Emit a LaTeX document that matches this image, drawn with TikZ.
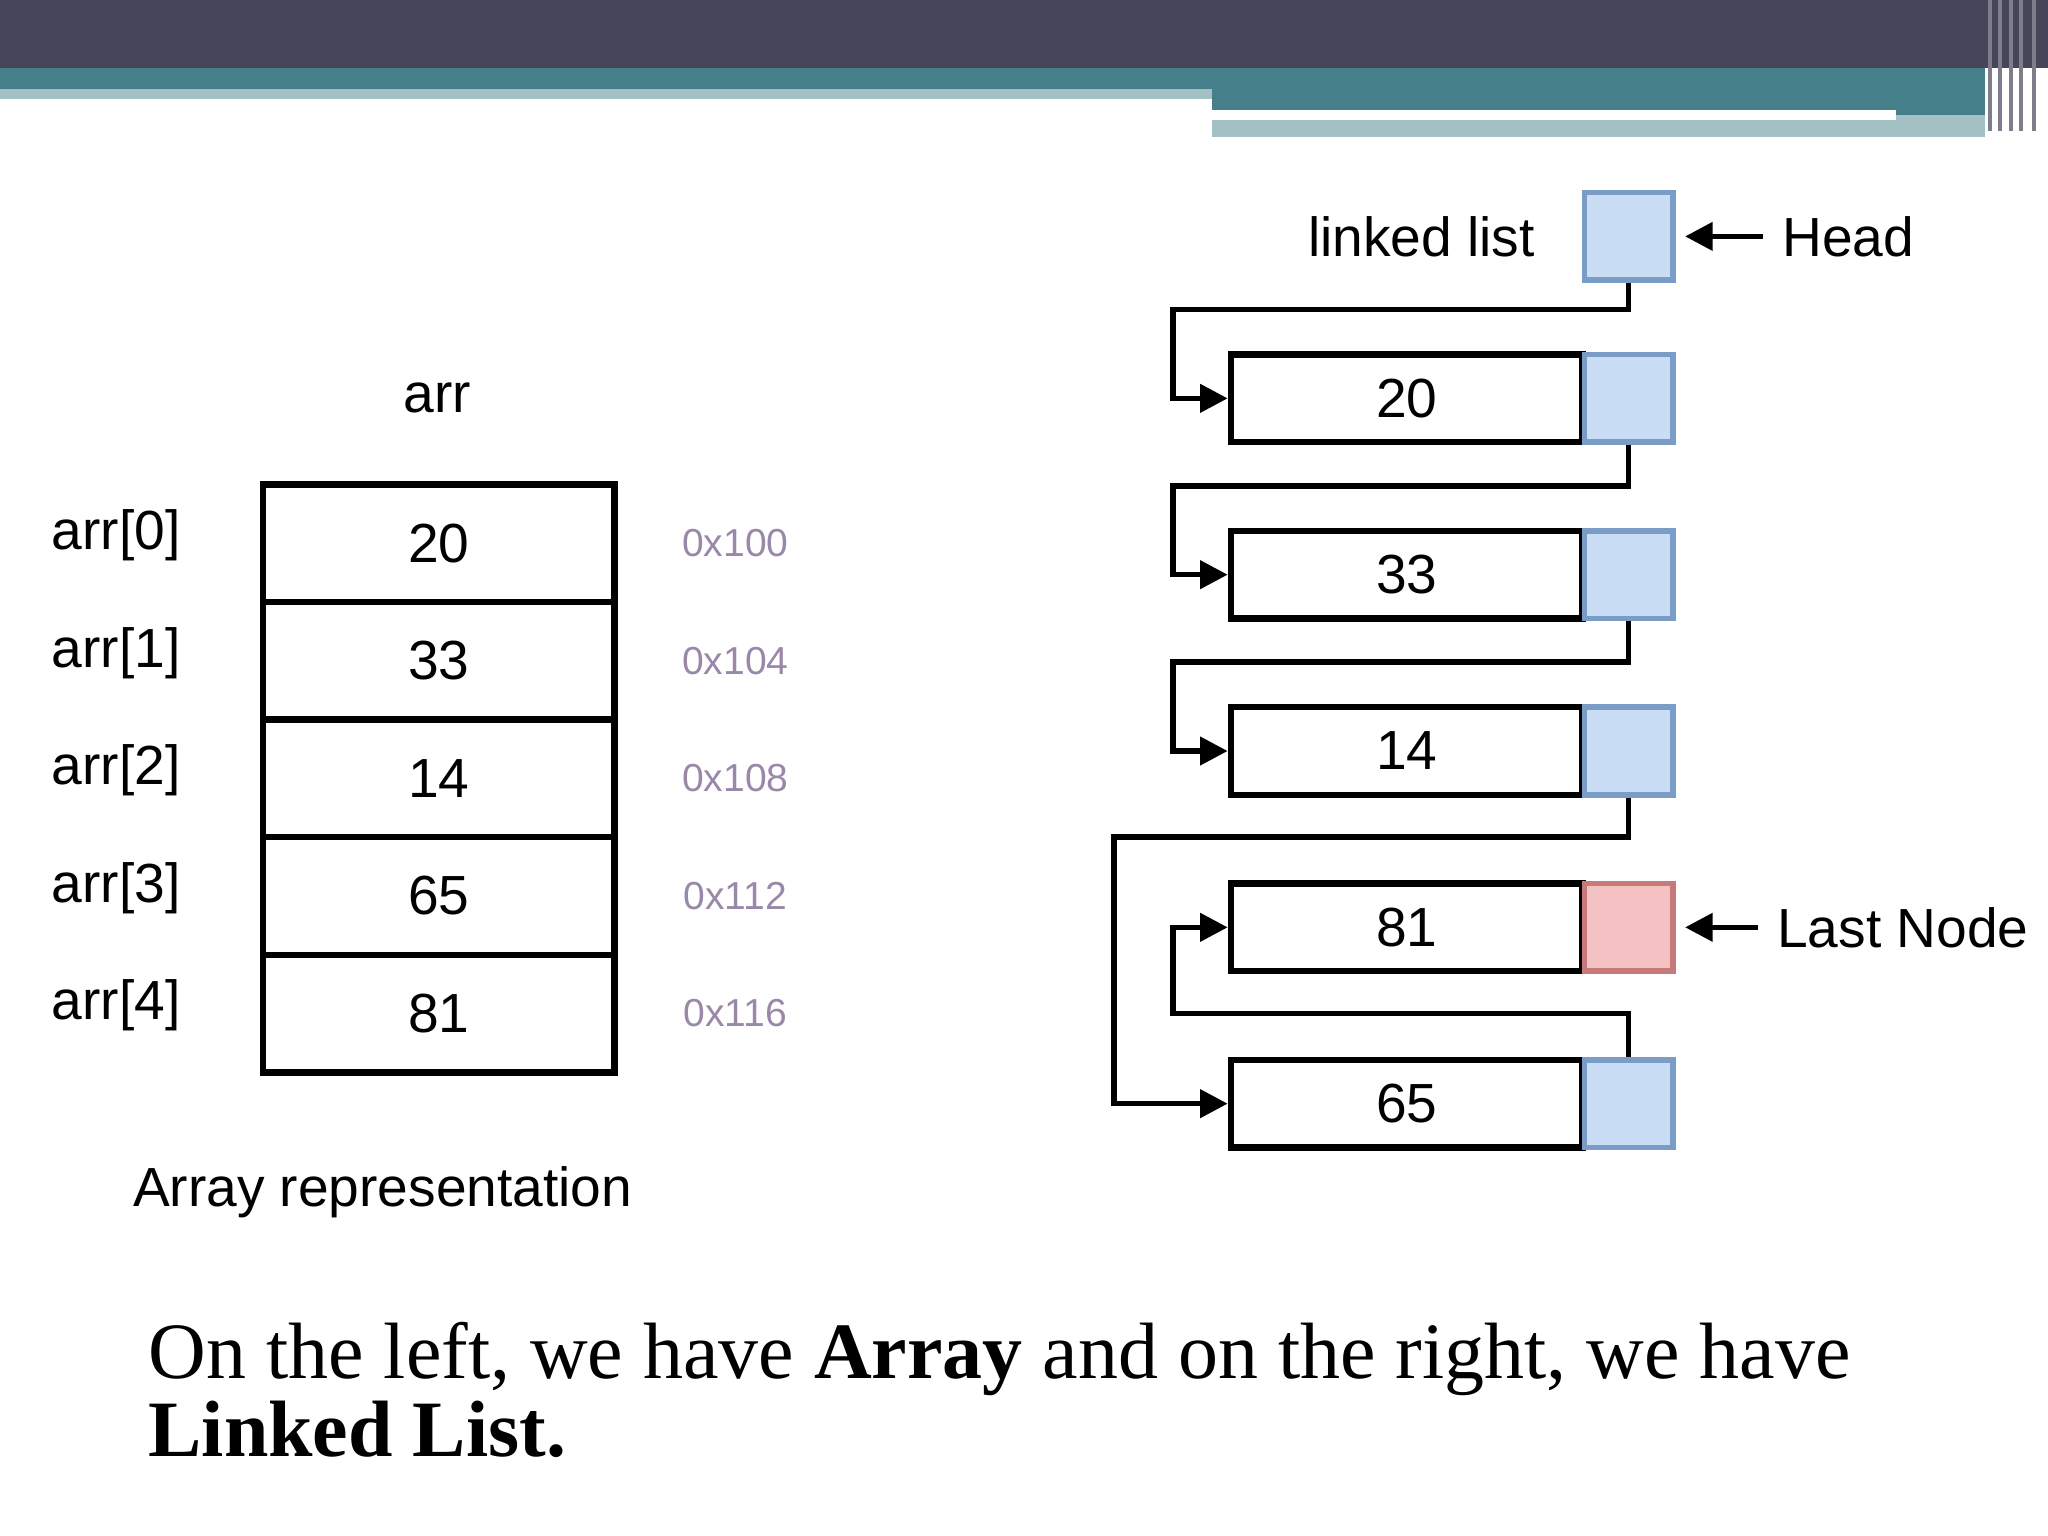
\documentclass[tikz,border=0pt]{standalone}
\usepackage{fontspec}
\setmainfont{Liberation Serif}
\newfontfamily\figfont{Liberation Sans}
\usepackage{xcolor}
\usetikzlibrary{calc,positioning,arrows.meta}
\definecolor{barDark}{HTML}{474559}
\definecolor{barTeal}{HTML}{45808A}
\definecolor{barLight}{HTML}{A3C0C4}
\definecolor{addrCol}{HTML}{9A88A8}
\definecolor{ptrBlue}{HTML}{C9DDF5}
\definecolor{ptrEdge}{HTML}{7A9CC6}
\definecolor{lastRed}{HTML}{F4C2C2}
\definecolor{lastEdge}{HTML}{C87A7A}
\tikzset{
  cell/.style={draw, line width=1.4pt, minimum width=2.69cm, minimum height=0.9cm, font=\figfont\fontsize{12}{14}\selectfont},
  dat/.style={draw, line width=1.4pt, minimum width=2.69cm, minimum height=0.67cm, font=\figfont\fontsize{12}{14}\selectfont},
  ptr/.style={draw=ptrEdge, fill=ptrBlue, line width=1.2pt, minimum width=0.68cm, minimum height=0.67cm},
  lbl/.style={font=\figfont\fontsize{12}{14}\selectfont},
  addr/.style={font=\figfont\fontsize{8.5}{10}\selectfont, text=addrCol},
  link/.style={line width=1.2pt, -{Triangle[length=6pt,width=6pt]}}
}
\begin{document}
\begin{tikzpicture}[x=0.01cm, y=-0.01cm, inner sep=0pt]
    \useasboundingbox (0,0) rectangle (1568,1176);
    % Slide header bars
    \fill[barDark] (0,0) rectangle (1568,52);
    \fill[barTeal] (0,52) rectangle (1520,68);
    \fill[barLight] (0,68) rectangle (928,76);
    \fill[barTeal] (928,68) rectangle (1520,88);
    \fill[barLight] (928,88) rectangle (1520,105);
    \draw[white, line width=2pt] (928,88) -- (1452,88);
    \foreach \x in {1522,1530,1538,1546,1556} {
        \fill[barDark!70] (\x,0) rectangle ++(3,100);
    }

    % Array representation
    \node[lbl] (arrT) at (335,305) {arr};
    \foreach \v/\a [count=\i from 0] in {20/0x100,33/0x104,14/0x108,65/0x112,81/0x116} {
        \node[cell] (c\i) at (336,416+90*\i) {\v};
        \node[lbl] (ix\i) at ($(c\i.west)+(-110,-6)$) {arr[\i]};
        \node[addr] (ad\i) at ($(c\i.east)+(90,0)$) {\a};
    }
    \node[lbl] (arrCap) at (293,913) {Array representation};

    % Linked list
    \node[ptr] (head) at (1247,181) {};
    \node[lbl, left=10pt of head] (llT) {linked list};
    \node[lbl, anchor=west] (headT) at (1364,181) {Head};
    \draw[line width=1.2pt, -{Triangle[length=6pt,width=6pt]}] ([xshift=-4pt]headT.west) -- ([xshift=2pt]head.east);
    \foreach \v/\y/\n in {20/305/a,33/440/b,14/575/c,81/710/d,65/845/e} {
        \node[dat] (n\n) at (1077,\y) {\v};
        \node[ptr] (p\n) at (1247,\y) {};
    }
    \node[draw=lastEdge, fill=lastRed, line width=1.2pt, minimum width=0.68cm, minimum height=0.67cm] (pd) at (1247,710) {};
    \node[lbl, anchor=west] (lastT) at (1360,710) {Last Node};
    \draw[line width=1.2pt, -{Triangle[length=6pt,width=6pt]}] ([xshift=-4pt]lastT.west) -- ([xshift=2pt]pd.east);

    % Next pointers
    \draw[link] (head.south) |- (898,237) |- (na.west);
    \draw[link] (pa.south) |- (898,372) |- (nb.west);
    \draw[link] (pb.south) |- (898,507) |- (nc.west);
    \draw[link] (pc.south) |- (853,641) |- (ne.west);
    \draw[link] (pe.north) |- (898,776) |- (nd.west);

    % Caption
    \node[anchor=north west, align=left, font=\fontsize{17.4}{15}\selectfont] (cap) at (113,1012)
        {On the left, we have \textbf{Array} and on the right, we have\\\textbf{Linked List.}};
\end{tikzpicture}
\end{document}
